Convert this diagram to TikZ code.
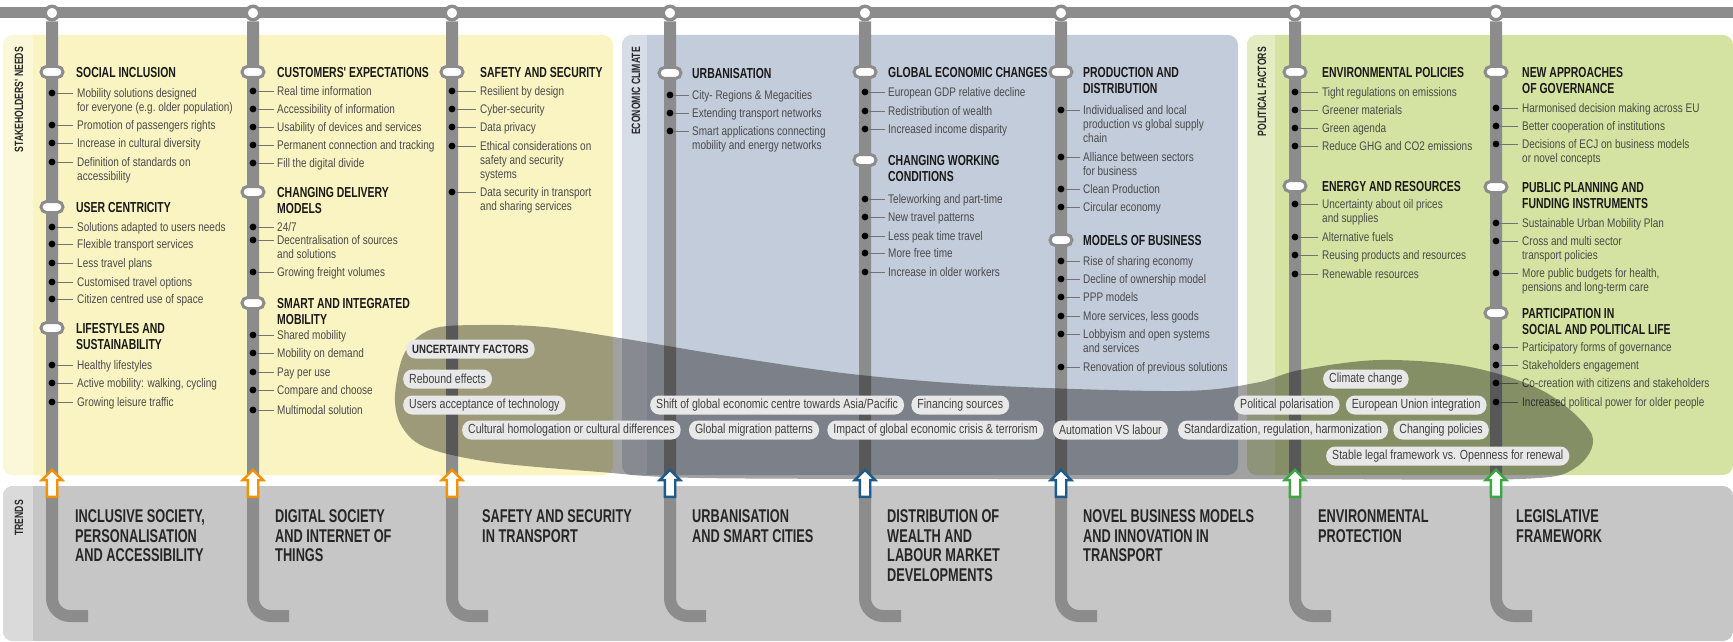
\documentclass[tikz,border=0pt]{standalone}
\usepackage{fontspec}
\setmainfont{Liberation Sans}[FakeStretch=0.8]
\newfontfamily\headfont{Liberation Sans}[FakeStretch=0.72]
\newfontfamily\trendfont{Liberation Sans}[FakeStretch=0.69]
\usetikzlibrary{shapes.arrows, positioning}
\definecolor{needyellow}{HTML}{F9F4C2}
\definecolor{needstrip}{HTML}{FBF8DA}
\definecolor{econblue}{HTML}{C3CCDA}
\definecolor{econstrip}{HTML}{D7DDE7}
\definecolor{polgreen}{HTML}{D4E3A1}
\definecolor{polstrip}{HTML}{E2EBC2}
\definecolor{trendgray}{HTML}{C6C6C6}
\definecolor{trendstrip}{HTML}{DADADA}
\definecolor{trackgray}{HTML}{8C8C8C}
\definecolor{itemgray}{HTML}{4A4A4A}
\definecolor{chipfill}{HTML}{E8E8E8}
\definecolor{arroworange}{HTML}{F39200}
\definecolor{arrowblue}{HTML}{1D5C8A}
\definecolor{arrowgreen}{HTML}{3DA843}

\begin{document}
\begin{tikzpicture}[
    x=1pt, y=-1pt,
    panel/.style={fill=#1, rounded corners=10pt},
    sidelabel/.style={
        rotate=90,
        anchor=east,
        inner sep=0pt,
        text=black!85,
        font=\headfont\bfseries\fontsize{12}{14}\selectfont
    },
    track/.style={draw=trackgray, line width=12pt, rounded corners=18pt},
    stopring/.style={
        circle,
        draw=trackgray,
        line width=3.4pt,
        fill=white,
        minimum size=13.4pt,
        inner sep=0pt
    },
    pill/.style={
        rectangle,
        rounded corners=5.5pt,
        draw=trackgray,
        line width=3pt,
        fill=white,
        minimum width=22pt,
        minimum height=11pt,
        inner sep=0pt
    },
    leader/.style={draw=black!55, line width=0.6pt},
    needhead/.style={
        anchor=north west,
        yshift=5.2pt,
        align=left,
        inner sep=0pt,
        text=black!90,
        font=\headfont\bfseries\fontsize{14.5}{16.5}\selectfont
    },
    needitem/.style={
        anchor=north west,
        yshift=4.5pt,
        align=left,
        inner sep=0pt,
        text=itemgray,
        font=\fontsize{12.5}{14}\selectfont
    },
    band/.style={fill=black, fill opacity=0.37},
    factor/.style={
        rectangle,
        rounded corners=9pt,
        fill=chipfill,
        text=black!75,
        minimum height=19pt,
        inner xsep=6pt,
        inner ysep=0pt,
        anchor=west,
        font=\fontsize{13.2}{15}\selectfont
    },
    trendarrow/.style={
        single arrow,
        draw=#1,
        fill=white,
        line width=2.4pt,
        shape border rotate=90,
        minimum height=27pt,
        inner sep=4pt,
        single arrow head extend=5pt,
        single arrow head indent=0pt
    },
    trendtitle/.style={
        anchor=north west,
        yshift=6.6pt,
        align=left,
        inner sep=0pt,
        text=black!85,
        font=\trendfont\bfseries\fontsize{18.5}{19.5}\selectfont
    }
]
\useasboundingbox (0,0) rectangle (1733,642);

% Panels
\fill[panel=needyellow] (3,35) rectangle (613,475);
\fill[panel=econblue] (622,35) rectangle (1238,475);
\fill[panel=polgreen] (1247,35) rectangle (1733,475);
\fill[panel=trendgray] (3,486) rectangle (1733,641);

% Label strips
\begin{scope}
\clip[rounded corners=10pt] (3,35) rectangle (613,475);
\fill[needstrip] (3,35) rectangle (33,475);
\end{scope}
\begin{scope}
\clip[rounded corners=10pt] (622,35) rectangle (1238,475);
\fill[econstrip] (622,35) rectangle (647,475);
\end{scope}
\begin{scope}
\clip[rounded corners=10pt] (1247,35) rectangle (1733,475);
\fill[polstrip] (1247,35) rectangle (1275,475);
\end{scope}
\begin{scope}
\clip[rounded corners=10pt] (3,486) rectangle (1733,641);
\fill[trendstrip] (3,486) rectangle (33,641);
\end{scope}

\node[sidelabel] (needs) at (19,47) {STAKEHOLDERS' NEEDS};
\node[sidelabel] (econ) at (636,47) {ECONOMIC CLIMATE};
\node[sidelabel] (polit) at (1262,47) {POLITICAL FACTORS};
\node[sidelabel] (trends) at (19,500) {TRENDS};

% Top rail
\draw[draw=trackgray, line width=11pt] (0,13) -- (1733,13);

% Stops on the rail
\node[stopring] (stop1) at (52,13) {};
\node[stopring] (stop2) at (253,13) {};
\node[stopring] (stop3) at (452,13) {};
\node[stopring] (stop4) at (670,13) {};
\node[stopring] (stop5) at (865,13) {};
\node[stopring] (stop6) at (1061,13) {};
\node[stopring] (stop7) at (1295,13) {};
\node[stopring] (stop8) at (1496,13) {};

% Tracks
\draw[track] (stop1) -- (52,616) -- (88,616);
\draw[track] (stop2) -- (253,616) -- (289,616);
\draw[track] (stop3) -- (452,616) -- (488,616);
\draw[track] (stop4) -- (670,616) -- (706,616);
\draw[track] (stop5) -- (865,616) -- (901,616);
\draw[track] (stop6) -- (1061,616) -- (1097,616);
\draw[track] (stop7) -- (1295,616) -- (1331,616);
\draw[track] (stop8) -- (1496,616) -- (1532,616);

% Column 1
\node[pill] at (52,72) {};
\node[pill] at (52,207) {};
\node[pill] at (52,328) {};
\foreach \y in {93,125,143,162,227,244,263,282,299,365,383,402}
    {\fill (52,\y) circle (3.4pt); \draw[leader] (56,\y) -- (73,\y);}
\node[needhead] (si) at (76,72) {SOCIAL INCLUSION};
\node[needitem] at (77,93) {Mobility solutions designed\\for everyone (e.g.\ older population)};
\node[needitem] at (77,125) {Promotion of passengers rights};
\node[needitem] at (77,143) {Increase in cultural diversity};
\node[needitem] at (77,162) {Definition of standards on\\accessibility};
\node[needhead] (uc) at (76,207) {USER CENTRICITY};
\node[needitem] at (77,227) {Solutions adapted to users needs};
\node[needitem] at (77,244) {Flexible transport services};
\node[needitem] at (77,263) {Less travel plans};
\node[needitem] at (77,282) {Customised travel options};
\node[needitem] at (77,299) {Citizen centred use of space};
\node[needhead] (ls) at (76,328) {LIFESTYLES AND\\SUSTAINABILITY};
\node[needitem] at (77,365) {Healthy lifestyles};
\node[needitem] at (77,383) {Active mobility: walking, cycling};
\node[needitem] at (77,402) {Growing leisure traffic};

% Column 2
\node[pill] at (253,72) {};
\node[pill] at (253,192) {};
\node[pill] at (253,303) {};
\foreach \y in {91,109,127,145,163,227,240,272,335,353,372,390,410}
    {\fill (253,\y) circle (3.4pt); \draw[leader] (257,\y) -- (274,\y);}
\node[needhead] (ce) at (277,72) {CUSTOMERS' EXPECTATIONS};
\node[needitem] at (277,91) {Real time information};
\node[needitem] at (277,109) {Accessibility of information};
\node[needitem] at (277,127) {Usability of devices and services};
\node[needitem] at (277,145) {Permanent connection and tracking};
\node[needitem] at (277,163) {Fill the digital divide};
\node[needhead] (cd) at (277,192) {CHANGING DELIVERY\\MODELS};
\node[needitem] at (277,227) {24/7};
\node[needitem] at (277,240) {Decentralisation of sources\\and solutions};
\node[needitem] at (277,272) {Growing freight volumes};
\node[needhead] (sm) at (277,303) {SMART AND INTEGRATED\\MOBILITY};
\node[needitem] at (277,335) {Shared mobility};
\node[needitem] at (277,353) {Mobility on demand};
\node[needitem] at (277,372) {Pay per use};
\node[needitem] at (277,390) {Compare and choose};
\node[needitem] at (277,410) {Multimodal solution};

% Column 3
\node[pill] at (452,72) {};
\foreach \y in {91,109,127,146,192}
    {\fill (452,\y) circle (3.4pt); \draw[leader] (456,\y) -- (476,\y);}
\node[needhead] (ss) at (480,72) {SAFETY AND SECURITY};
\node[needitem] at (480,91) {Resilient by design};
\node[needitem] at (480,109) {Cyber-security};
\node[needitem] at (480,127) {Data privacy};
\node[needitem] at (480,146) {Ethical considerations on\\safety and security\\systems};
\node[needitem] at (480,192) {Data security in transport\\and sharing services};

% Column 4
\node[pill] at (670,73) {};
\foreach \y in {95,113,131}
    {\fill (670,\y) circle (3.4pt); \draw[leader] (674,\y) -- (689,\y);}
\node[needhead] (ur) at (692,73) {URBANISATION};
\node[needitem] at (692,95) {City- Regions \& Megacities};
\node[needitem] at (692,113) {Extending transport networks};
\node[needitem] at (692,131) {Smart applications connecting\\mobility and energy networks};

% Column 5
\node[pill] at (865,72) {};
\node[pill] at (865,160) {};
\foreach \y in {92,111,129,199,217,236,253,272}
    {\fill (865,\y) circle (3.4pt); \draw[leader] (869,\y) -- (885,\y);}
\node[needhead] (ge) at (888,72) {GLOBAL ECONOMIC CHANGES};
\node[needitem] at (888,92) {European GDP relative decline};
\node[needitem] at (888,111) {Redistribution of wealth};
\node[needitem] at (888,129) {Increased income disparity};
\node[needhead] (cw) at (888,160) {CHANGING WORKING\\CONDITIONS};
\node[needitem] at (888,199) {Teleworking and part-time};
\node[needitem] at (888,217) {New travel patterns};
\node[needitem] at (888,236) {Less peak time travel};
\node[needitem] at (888,253) {More free time};
\node[needitem] at (888,272) {Increase in older workers};

% Column 6
\node[pill] at (1061,72) {};
\node[pill] at (1061,240) {};
\foreach \y in {110,157,189,207,261,279,297,316,334,367}
    {\fill (1061,\y) circle (3.4pt); \draw[leader] (1065,\y) -- (1080,\y);}
\node[needhead] (pd) at (1083,72) {PRODUCTION AND\\DISTRIBUTION};
\node[needitem] at (1083,110) {Individualised and local\\production vs global supply\\chain};
\node[needitem] at (1083,157) {Alliance between sectors\\for business};
\node[needitem] at (1083,189) {Clean Production};
\node[needitem] at (1083,207) {Circular economy};
\node[needhead] (mb) at (1083,240) {MODELS OF BUSINESS};
\node[needitem] at (1083,261) {Rise of sharing economy};
\node[needitem] at (1083,279) {Decline of ownership model};
\node[needitem] at (1083,297) {PPP models};
\node[needitem] at (1083,316) {More services, less goods};
\node[needitem] at (1083,334) {Lobbyism and open systems\\and services};
\node[needitem] at (1083,367) {Renovation of previous solutions};

% Column 7
\node[pill] at (1295,72) {};
\node[pill] at (1295,186) {};
\foreach \y in {92,110,128,146,204,237,255,274}
    {\fill (1295,\y) circle (3.4pt); \draw[leader] (1299,\y) -- (1318,\y);}
\node[needhead] (ep) at (1322,72) {ENVIRONMENTAL POLICIES};
\node[needitem] at (1322,92) {Tight regulations on emissions};
\node[needitem] at (1322,110) {Greener materials};
\node[needitem] at (1322,128) {Green agenda};
\node[needitem] at (1322,146) {Reduce GHG and CO2 emissions};
\node[needhead] (er) at (1322,186) {ENERGY AND RESOURCES};
\node[needitem] at (1322,204) {Uncertainty about oil prices\\and supplies};
\node[needitem] at (1322,237) {Alternative fuels};
\node[needitem] at (1322,255) {Reusing products and resources};
\node[needitem] at (1322,274) {Renewable resources};

% Column 8
\node[pill] at (1496,72) {};
\node[pill] at (1496,187) {};
\node[pill] at (1496,313) {};
\foreach \y in {108,126,144,223,241,273,347,365,383,402}
    {\fill (1496,\y) circle (3.4pt); \draw[leader] (1500,\y) -- (1518,\y);}
\node[needhead] (ng) at (1522,72) {NEW APPROACHES\\OF GOVERNANCE};
\node[needitem] at (1522,108) {Harmonised decision making across EU};
\node[needitem] at (1522,126) {Better cooperation of institutions};
\node[needitem] at (1522,144) {Decisions of ECJ on business models\\or novel concepts};
\node[needhead] (pp) at (1522,187) {PUBLIC PLANNING AND\\FUNDING INSTRUMENTS};
\node[needitem] at (1522,223) {Sustainable Urban Mobility Plan};
\node[needitem] at (1522,241) {Cross and multi sector\\transport policies};
\node[needitem] at (1522,273) {More public budgets for health,\\pensions and long-term care};
\node[needhead] (pl) at (1522,313) {PARTICIPATION IN\\SOCIAL AND POLITICAL LIFE};
\node[needitem] at (1522,347) {Participatory forms of governance};
\node[needitem] at (1522,365) {Stakeholders engagement};
\node[needitem] at (1522,383) {Co-creation with citizens and stakeholders};
\node[needitem] at (1522,402) {Increased political power for older people};

% Uncertainty band
\fill[band] plot[smooth cycle, tension=0.55] coordinates {
    (395,395) (405,352) (432,329) (480,325) (545,327) (620,338) (740,358)
    (860,375) (1000,386) (1180,391) (1255,383) (1300,370) (1380,360)
    (1470,367) (1545,392) (1592,435) (1575,468) (1520,479) (1300,479)
    (1000,479) (700,478) (600,472) (490,462) (425,447) (401,425)};

% Uncertainty factors
\node[factor, text=black!85, font=\bfseries\fontsize{12}{14}\selectfont] (uncert) at (406,349) {UNCERTAINTY FACTORS};
\node[factor] (rebound) at (403,379) {Rebound effects};
\node[factor] (climate) at (1323,379) {Climate change};
\node[factor] (accept) at (403,405) {Users acceptance of technology};
\node[factor] (shift) at (650,405) {Shift of global economic centre towards Asia/Pacific};
\node[factor, right=7pt of shift] (financing) {Financing sources};
\node[factor] (polar) at (1234,405) {Political polarisation};
\node[factor, right=6pt of polar] (euint) {European Union integration};
\node[factor] (cultural) at (462,430) {Cultural homologation or cultural differences};
\node[factor, right=8pt of cultural] (migration) {Global migration patterns};
\node[factor, right=8pt of migration] (crisis) {Impact of global economic crisis \& terrorism};
\node[factor, right=9pt of crisis] (automation) {Automation VS labour};
\node[factor, right=10pt of automation] (standard) {Standardization, regulation, harmonization};
\node[factor, right=5pt of standard] (policies) {Changing policies};
\node[factor] (legal) at (1326,456) {Stable legal framework vs. Openness for renewal};

% Arrows into the trends
\node[trendarrow=arroworange] (up1) at (52,486) {};
\node[trendarrow=arroworange] (up2) at (253,486) {};
\node[trendarrow=arroworange] (up3) at (452,486) {};
\node[trendarrow=arrowblue] (up4) at (670,486) {};
\node[trendarrow=arrowblue] (up5) at (865,486) {};
\node[trendarrow=arrowblue] (up6) at (1061,486) {};
\node[trendarrow=arrowgreen] (up7) at (1295,486) {};
\node[trendarrow=arrowgreen] (up8) at (1496,486) {};

% Trends
\node[trendtitle] (trend1) at (75,516) {INCLUSIVE SOCIETY,\\PERSONALISATION\\AND ACCESSIBILITY};
\node[trendtitle] (trend2) at (275,516) {DIGITAL SOCIETY\\AND INTERNET OF\\THINGS};
\node[trendtitle] (trend3) at (482,516) {SAFETY AND SECURITY\\IN TRANSPORT};
\node[trendtitle] (trend4) at (692,516) {URBANISATION\\AND SMART CITIES};
\node[trendtitle] (trend5) at (887,516) {DISTRIBUTION OF\\WEALTH AND\\LABOUR MARKET\\DEVELOPMENTS};
\node[trendtitle] (trend6) at (1083,516) {NOVEL BUSINESS MODELS\\AND INNOVATION IN\\TRANSPORT};
\node[trendtitle] (trend7) at (1318,516) {ENVIRONMENTAL\\PROTECTION};
\node[trendtitle] (trend8) at (1516,516) {LEGISLATIVE\\FRAMEWORK};

\end{tikzpicture}
\end{document}
